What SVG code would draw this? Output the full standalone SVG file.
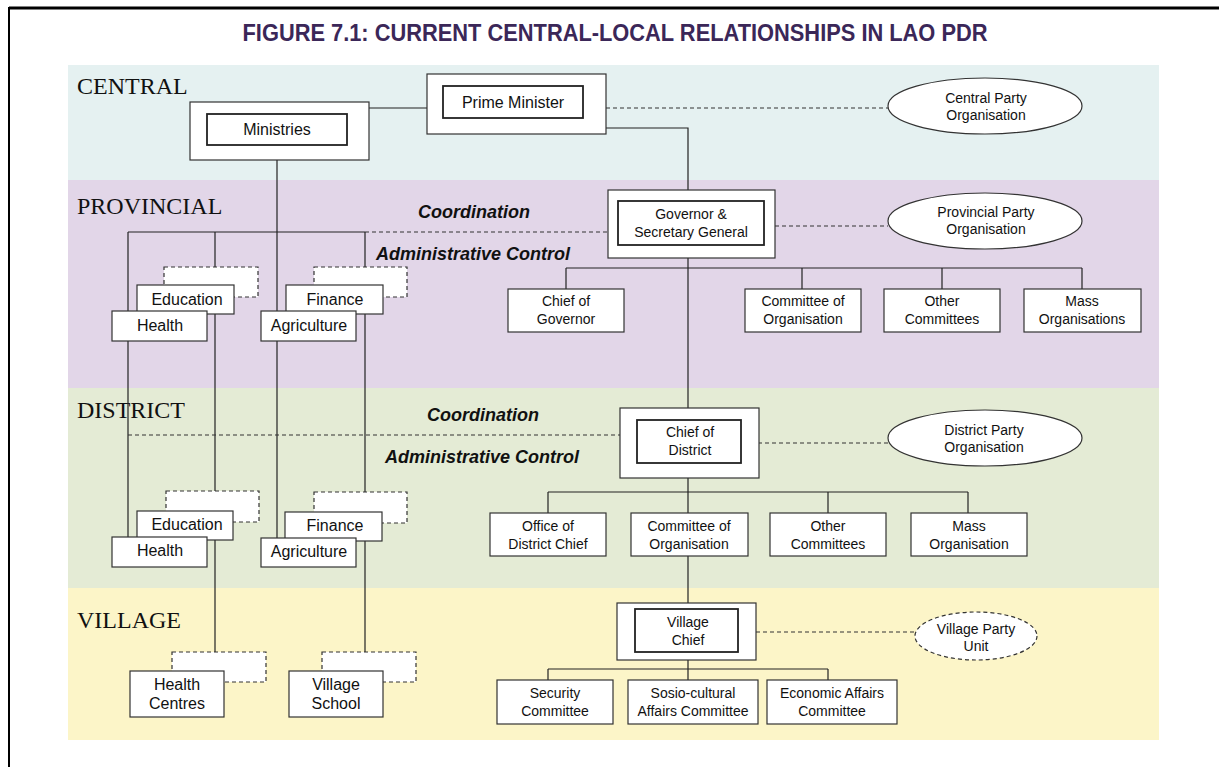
<svg xmlns="http://www.w3.org/2000/svg" width="1219" height="767" viewBox="0 0 1219 767">
  <style>
    .frame { stroke: #000; fill: none; }
    .band-label { font-family: "Liberation Serif", "Times New Roman", serif; font-size: 24px; fill: #111; }
    .title { font-family: "Liberation Sans", Arial, sans-serif; font-weight: bold; font-size: 23px; fill: #3b2758; }
    .box { fill: #fff; stroke: #333; stroke-width: 1.2; }
    .inner { fill: #fff; stroke: #222; stroke-width: 1.8; }
    .ghost { fill: #fff; stroke: #333; stroke-width: 1.2; stroke-dasharray: 4 3; }
    .oval { fill: #fff; stroke: #333; stroke-width: 1.2; }
    .oval-dash { fill: #fff; stroke: #333; stroke-width: 1.2; stroke-dasharray: 4 3; }
    .t16 { font-family: "Liberation Sans", Arial, sans-serif; font-size: 16px; fill: #111; text-anchor: middle; }
    .t14 { font-family: "Liberation Sans", Arial, sans-serif; font-size: 14px; fill: #111; text-anchor: middle; }
    .note { font-family: "Liberation Sans", Arial, sans-serif; font-size: 18px; font-weight: bold; font-style: italic; fill: #111; text-anchor: middle; }
    .link { stroke: #222; stroke-width: 1.2; fill: none; }
    .link-dash { stroke: #333; stroke-width: 1.2; fill: none; stroke-dasharray: 4 3; }
  </style>

  <!-- page frame -->
  <rect x="0" y="0" width="1219" height="767" fill="#fff"/>
  <line class="frame" x1="9" y1="8" x2="1219" y2="8" stroke-width="3"/>
  <line class="frame" x1="9" y1="7" x2="9" y2="767" stroke-width="2"/>

  <text class="title" x="615" y="41" text-anchor="middle" textLength="745" lengthAdjust="spacingAndGlyphs">FIGURE 7.1: CURRENT CENTRAL-LOCAL RELATIONSHIPS IN LAO PDR</text>

  <!-- level bands -->
  <g id="bands">
    <rect x="68" y="65" width="1091" height="115" fill="#e5f1f1"/>
    <rect x="68" y="180" width="1091" height="208" fill="#e2d6e8"/>
    <rect x="68" y="388" width="1091" height="200" fill="#e4ebd5"/>
    <rect x="68" y="588" width="1091" height="152" fill="#fcf5c8"/>
    <text class="band-label" x="77" y="94">CENTRAL</text>
    <text class="band-label" x="77" y="214">PROVINCIAL</text>
    <text class="band-label" x="77" y="418">DISTRICT</text>
    <text class="band-label" x="77" y="628">VILLAGE</text>
  </g>

  <!-- connectors -->
  <g id="connectors">
    <!-- central -->
    <line class="link" x1="369" y1="108" x2="427" y2="108"/>
    <line class="link-dash" x1="606" y1="108" x2="888" y2="108"/>
    <polyline class="link" points="606,128 688,128 688,190"/>
    <!-- main vertical chain -->
    <line class="link" x1="688" y1="258" x2="688" y2="408"/>
    <line class="link" x1="688" y1="478" x2="688" y2="603"/>
    <line class="link" x1="688" y1="660" x2="688" y2="680"/>
    <!-- provincial -->
    <line class="link" x1="128" y1="232" x2="365" y2="232"/>
    <line class="link-dash" x1="365" y1="232" x2="608" y2="232"/>
    <line class="link-dash" x1="775" y1="226" x2="888" y2="226"/>
    <line class="link" x1="566" y1="268" x2="1082" y2="268"/>
    <line class="link" x1="566" y1="268" x2="566" y2="289"/>
    <line class="link" x1="802" y1="268" x2="802" y2="289"/>
    <line class="link" x1="942" y1="268" x2="942" y2="289"/>
    <line class="link" x1="1082" y1="268" x2="1082" y2="289"/>
    <!-- sector lines -->
    <line class="link" x1="128" y1="232" x2="128" y2="537"/>
    <line class="link" x1="215" y1="232" x2="215" y2="652"/>
    <line class="link" x1="277" y1="160" x2="277" y2="538"/>
    <line class="link" x1="365" y1="232" x2="365" y2="652"/>
    <!-- district -->
    <line class="link-dash" x1="128" y1="435" x2="620" y2="435"/>
    <line class="link-dash" x1="758" y1="443" x2="888" y2="443"/>
    <line class="link" x1="548" y1="492" x2="968" y2="492"/>
    <line class="link" x1="548" y1="492" x2="548" y2="513"/>
    <line class="link" x1="828" y1="492" x2="828" y2="513"/>
    <line class="link" x1="968" y1="492" x2="968" y2="513"/>
    <!-- village -->
    <line class="link-dash" x1="756" y1="632" x2="915" y2="632"/>
    <line class="link" x1="548" y1="669" x2="828" y2="669"/>
    <line class="link" x1="548" y1="669" x2="548" y2="680"/>
    <line class="link" x1="828" y1="669" x2="828" y2="680"/>
  </g>

  <g id="coordination-labels">
    <text class="note" x="474" y="218">Coordination</text>
    <text class="note" x="473" y="260">Administrative Control</text>
    <text class="note" x="483" y="421">Coordination</text>
    <text class="note" x="482" y="463">Administrative Control</text>
  </g>

  <!-- central level -->
  <g id="prime-minister">
    <rect class="box" x="427" y="74" width="179" height="60"/>
    <rect class="inner" x="443" y="86" width="140" height="32"/>
    <text class="t16" x="513" y="108">Prime Minister</text>
  </g>
  <g id="ministries">
    <rect class="box" x="190" y="102" width="179" height="58"/>
    <rect class="inner" x="207" y="114" width="140" height="31"/>
    <text class="t16" x="277" y="135">Ministries</text>
  </g>
  <g id="central-party">
    <ellipse class="oval" cx="985" cy="106" rx="97" ry="28"/>
    <text class="t14" x="986" y="103">Central Party</text>
    <text class="t14" x="986" y="120">Organisation</text>
  </g>

  <!-- provincial level -->
  <g id="governor">
    <rect class="box" x="608" y="190" width="167" height="68"/>
    <rect class="inner" x="618" y="201" width="146" height="44"/>
    <text class="t14" x="691" y="219">Governor &amp;</text>
    <text class="t14" x="691" y="237">Secretary General</text>
  </g>
  <g id="provincial-party">
    <ellipse class="oval" cx="985" cy="221" rx="97" ry="28"/>
    <text class="t14" x="986" y="217">Provincial Party</text>
    <text class="t14" x="986" y="234">Organisation</text>
  </g>
  <g id="chief-of-governor">
    <rect class="box" x="508" y="289" width="116" height="43"/>
    <text class="t14" x="566" y="306">Chief of</text>
    <text class="t14" x="566" y="324">Governor</text>
  </g>
  <g id="prov-committee-of-organisation">
    <rect class="box" x="745" y="289" width="116" height="43"/>
    <text class="t14" x="803" y="306">Committee of</text>
    <text class="t14" x="803" y="324">Organisation</text>
  </g>
  <g id="prov-other-committees">
    <rect class="box" x="884" y="289" width="116" height="43"/>
    <text class="t14" x="942" y="306">Other</text>
    <text class="t14" x="942" y="324">Committees</text>
  </g>
  <g id="prov-mass-organisations">
    <rect class="box" x="1024" y="289" width="117" height="43"/>
    <text class="t14" x="1082" y="306">Mass</text>
    <text class="t14" x="1082" y="324">Organisations</text>
  </g>
  <g id="prov-education">
    <rect class="ghost" x="164" y="267" width="94" height="30"/>
    <rect class="box" x="137" y="285" width="97" height="29"/>
    <text class="t16" x="187" y="305">Education</text>
  </g>
  <g id="prov-health">
    <rect class="box" x="112" y="311" width="95" height="30"/>
    <text class="t16" x="160" y="331">Health</text>
  </g>
  <g id="prov-finance">
    <rect class="ghost" x="314" y="267" width="93" height="30"/>
    <rect class="box" x="286" y="285" width="97" height="29"/>
    <text class="t16" x="335" y="305">Finance</text>
  </g>
  <g id="prov-agriculture">
    <rect class="box" x="261" y="311" width="95" height="30"/>
    <text class="t16" x="309" y="331">Agriculture</text>
  </g>

  <!-- district level -->
  <g id="chief-of-district">
    <rect class="box" x="620" y="408" width="139" height="70"/>
    <rect class="inner" x="637" y="420" width="104" height="43"/>
    <text class="t14" x="690" y="437">Chief of</text>
    <text class="t14" x="690" y="455">District</text>
  </g>
  <g id="district-party">
    <ellipse class="oval" cx="985" cy="438" rx="97" ry="28"/>
    <text class="t14" x="984" y="435">District Party</text>
    <text class="t14" x="984" y="452">Organisation</text>
  </g>
  <g id="office-of-district-chief">
    <rect class="box" x="490" y="513" width="116" height="43"/>
    <text class="t14" x="548" y="531">Office of</text>
    <text class="t14" x="548" y="549">District Chief</text>
  </g>
  <g id="dist-committee-of-organisation">
    <rect class="box" x="631" y="513" width="117" height="43"/>
    <text class="t14" x="689" y="531">Committee of</text>
    <text class="t14" x="689" y="549">Organisation</text>
  </g>
  <g id="dist-other-committees">
    <rect class="box" x="770" y="513" width="116" height="43"/>
    <text class="t14" x="828" y="531">Other</text>
    <text class="t14" x="828" y="549">Committees</text>
  </g>
  <g id="dist-mass-organisation">
    <rect class="box" x="911" y="513" width="116" height="43"/>
    <text class="t14" x="969" y="531">Mass</text>
    <text class="t14" x="969" y="549">Organisation</text>
  </g>
  <g id="dist-education">
    <rect class="ghost" x="166" y="491" width="93" height="31"/>
    <rect class="box" x="137" y="511" width="96" height="29"/>
    <text class="t16" x="187" y="530">Education</text>
  </g>
  <g id="dist-health">
    <rect class="box" x="112" y="537" width="95" height="30"/>
    <text class="t16" x="160" y="556">Health</text>
  </g>
  <g id="dist-finance">
    <rect class="ghost" x="314" y="492" width="93" height="31"/>
    <rect class="box" x="285" y="512" width="97" height="29"/>
    <text class="t16" x="335" y="531">Finance</text>
  </g>
  <g id="dist-agriculture">
    <rect class="box" x="261" y="538" width="95" height="29"/>
    <text class="t16" x="309" y="557">Agriculture</text>
  </g>

  <!-- village level -->
  <g id="village-chief">
    <rect class="box" x="617" y="603" width="139" height="57"/>
    <rect class="inner" x="635" y="609" width="103" height="43"/>
    <text class="t14" x="688" y="627">Village</text>
    <text class="t14" x="688" y="645">Chief</text>
  </g>
  <g id="village-party-unit">
    <ellipse class="oval-dash" cx="976" cy="636" rx="61" ry="24"/>
    <text class="t14" x="976" y="634">Village Party</text>
    <text class="t14" x="976" y="651">Unit</text>
  </g>
  <g id="security-committee">
    <rect class="box" x="497" y="680" width="116" height="44"/>
    <text class="t14" x="555" y="698">Security</text>
    <text class="t14" x="555" y="716">Committee</text>
  </g>
  <g id="socio-cultural-committee">
    <rect class="box" x="628" y="680" width="130" height="44"/>
    <text class="t14" x="693" y="698">Sosio-cultural</text>
    <text class="t14" x="693" y="716">Affairs Committee</text>
  </g>
  <g id="economic-affairs-committee">
    <rect class="box" x="767" y="680" width="130" height="44"/>
    <text class="t14" x="832" y="698">Economic Affairs</text>
    <text class="t14" x="832" y="716">Committee</text>
  </g>
  <g id="health-centres">
    <rect class="ghost" x="172" y="652" width="94" height="30"/>
    <rect class="box" x="130" y="671" width="94" height="46"/>
    <text class="t16" x="177" y="690">Health</text>
    <text class="t16" x="177" y="709">Centres</text>
  </g>
  <g id="village-school">
    <rect class="ghost" x="322" y="652" width="94" height="30"/>
    <rect class="box" x="289" y="671" width="94" height="46"/>
    <text class="t16" x="336" y="690">Village</text>
    <text class="t16" x="336" y="709">School</text>
  </g>
</svg>
